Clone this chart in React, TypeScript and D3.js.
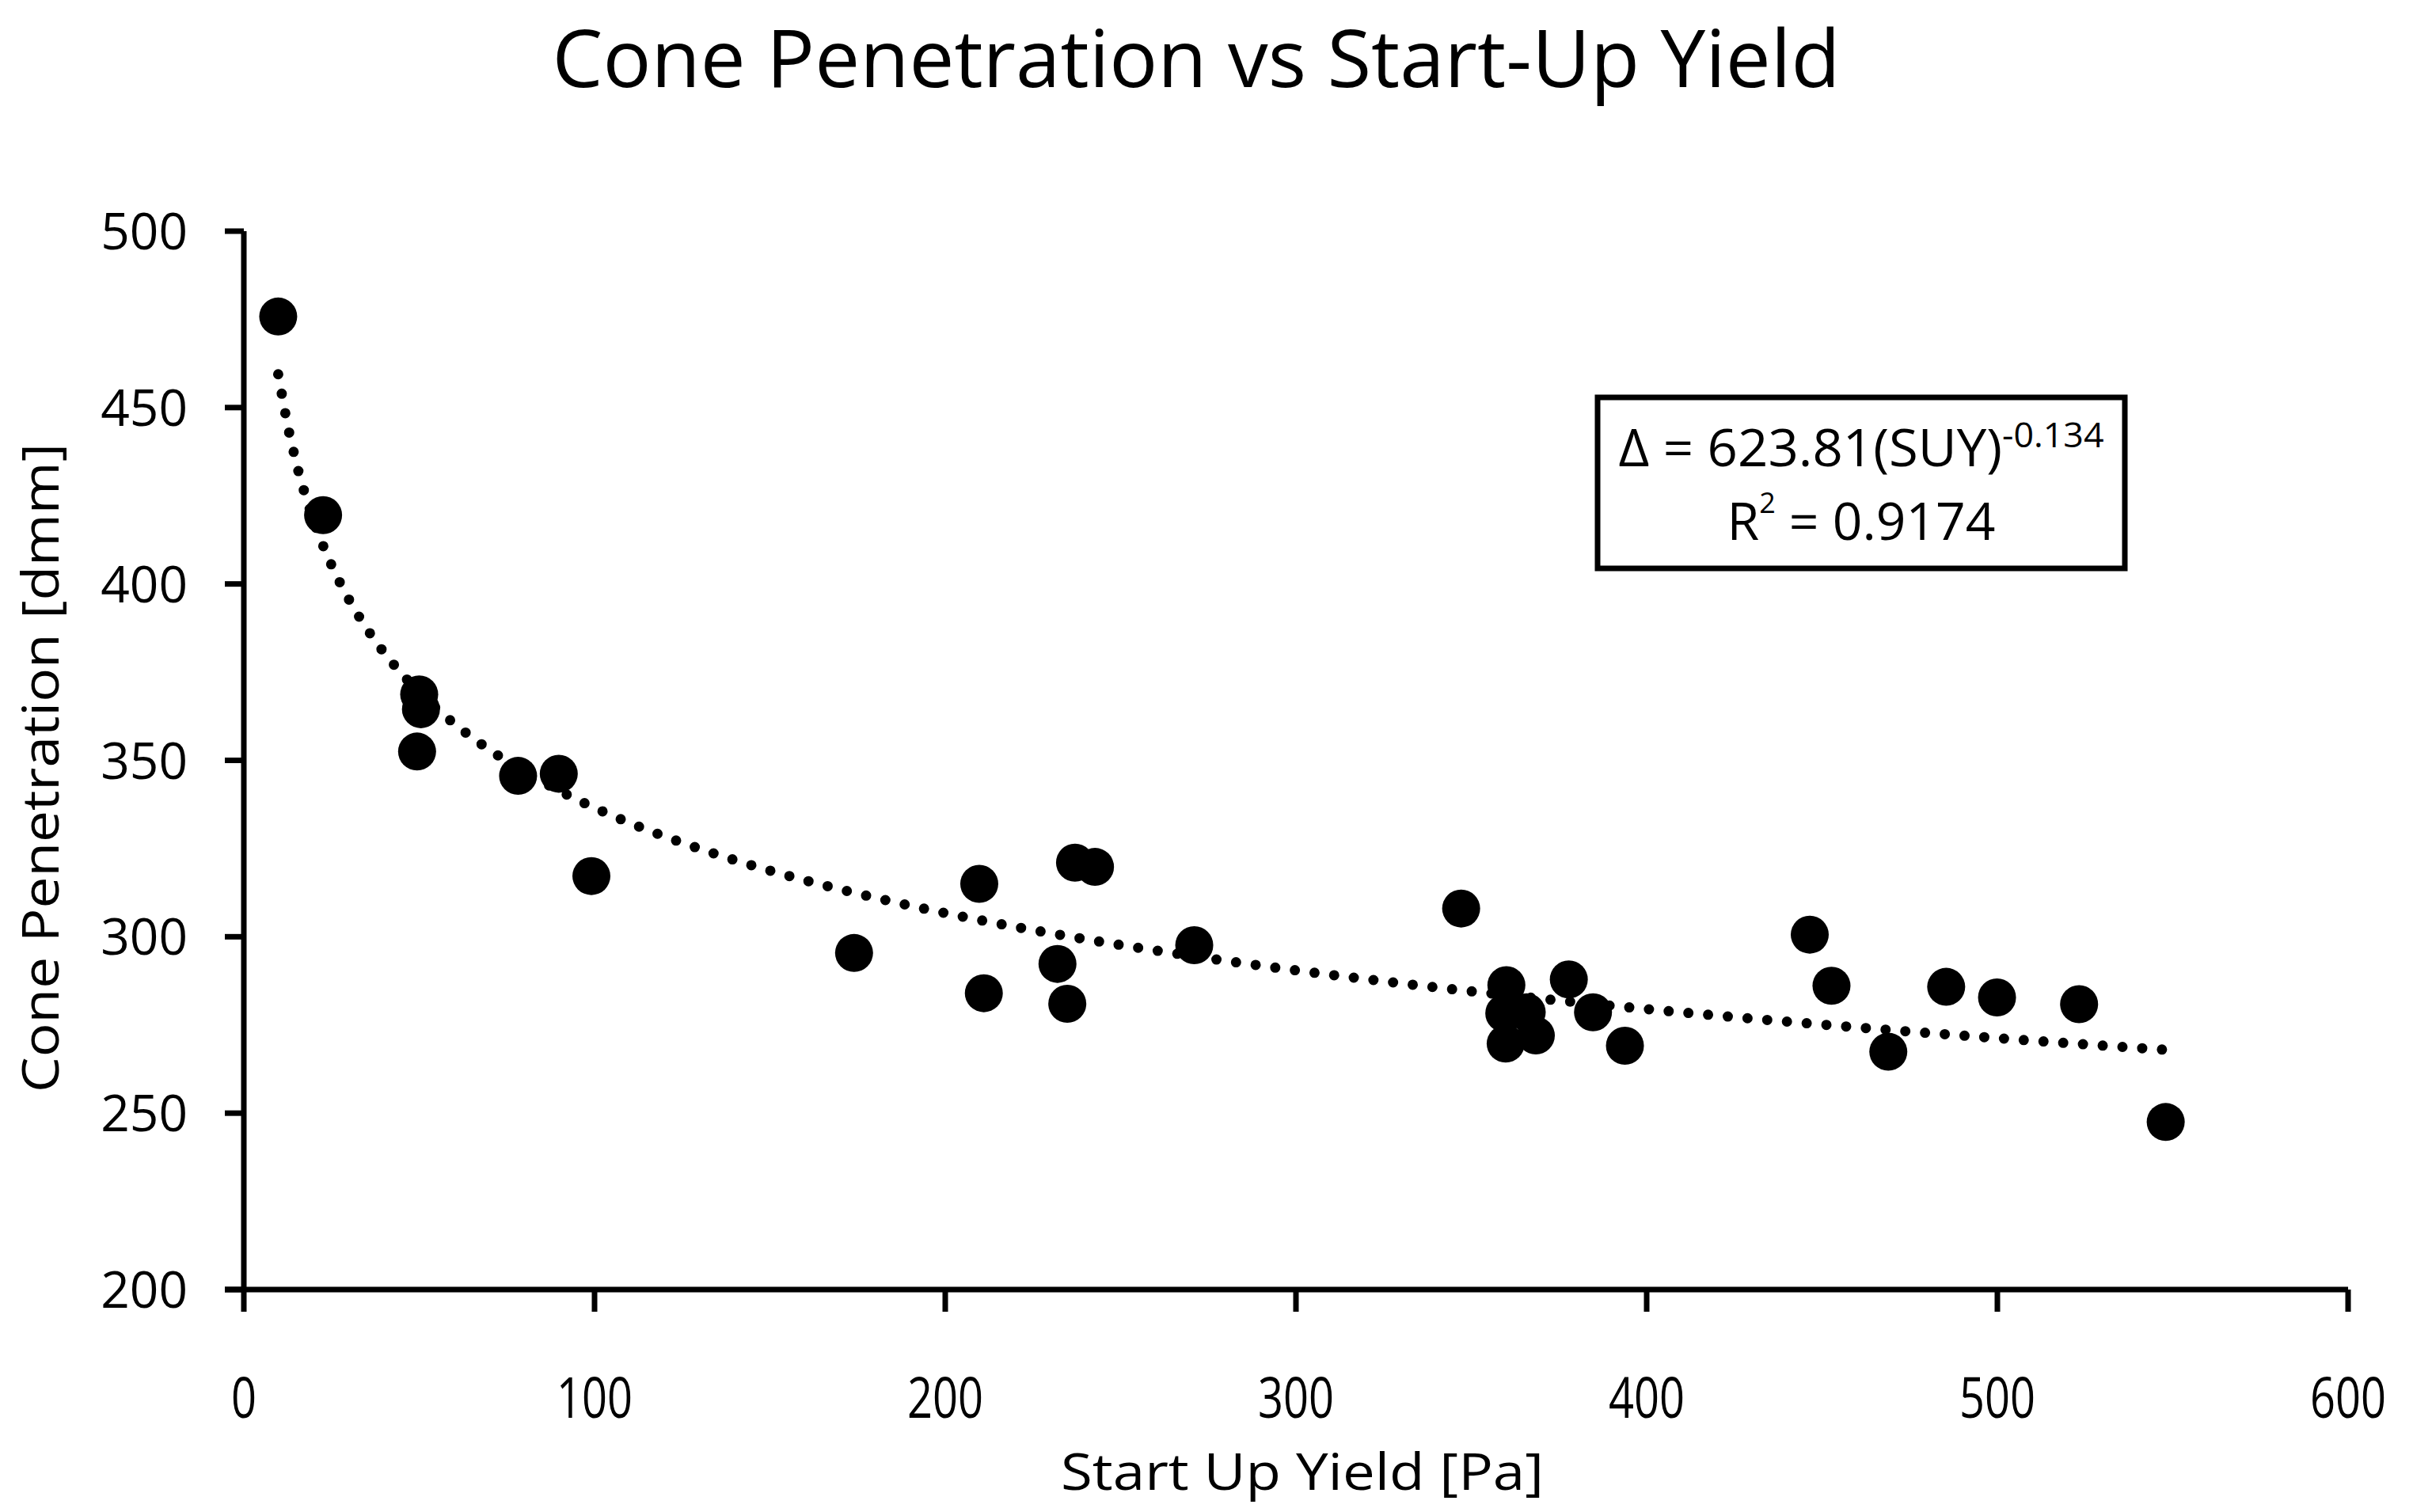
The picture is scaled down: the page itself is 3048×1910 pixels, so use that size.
import React from "react";
import * as d3 from "d3";

// Start-up yield [Pa] and cone penetration [dmm]
const suy = [
  9.8, 22.6, 50, 50.5, 49.4, 78.2, 89.8, 99.1, 174, 209.7, 211, 232, 234.8,
  237, 242.7, 271, 347.1, 360, 359.4, 359.8, 365.8, 368.4, 377.8, 384.7,
  393.8, 446.5, 452.7, 468.9, 485.4, 499.9, 523.3, 548,
];
const cone = [
  475.8, 419.5, 368.7, 364.5, 352.5, 345.6, 346.2, 317.2, 295.4, 315, 284,
  292.3, 281, 321, 319.8, 297.6, 308, 286.3, 278.3, 269.7, 278.6, 272, 287.9,
  278.6, 269.1, 300.6, 286.1, 267.4, 285.8, 282.8, 280.9, 247.5,
];

const xTicks = [0, 100, 200, 300, 400, 500, 600];
const yTicks = [200, 250, 300, 350, 400, 450, 500];

// power trendline
const fitA = 623.81;
const fitB = -0.134;
const r2 = 0.9174;

const W = 3048;
const H = 1910;
const FONT = "'Open Sans', 'Noto Sans', sans-serif";

export default function App() {
  const x = d3.scaleLinear().domain([0, 600]).range([308, 2966]);
  const y = d3.scaleLinear().domain([200, 500]).range([1629, 292]);

  const [xMin, xMax] = d3.extent(suy) as [number, number];
  const trendPts = d3.range(0, 201).map((i) => {
    const v = xMin + ((xMax - xMin) * i) / 200;
    return [v, fitA * Math.pow(v, fitB)] as [number, number];
  });
  const trend = d3
    .line<[number, number]>()
    .x((d) => x(d[0]))
    .y((d) => y(d[1]))(trendPts);

  const pts = suy.map((v, i) => ({ x: v, y: cone[i] }));

  return (
    <svg
      width={W}
      height={H}
      style={{ position: "absolute", left: 0, top: 0, background: "#fff" }}
      fontFamily={FONT}
    >
      <rect width={W} height={H} fill="#fff" />

      <text
        x={1511}
        y={110}
        fontSize={100}
        textAnchor="middle"
        textLength={1627}
        lengthAdjust="spacingAndGlyphs"
      >
        Cone Penetration vs Start-Up Yield
      </text>

      {/* trendline */}
      <path
        d={trend || ""}
        fill="none"
        stroke="#000"
        strokeWidth={13}
        strokeLinecap="round"
        strokeDasharray="0 25"
      />

      {/* points */}
      {pts.map((d, i) => (
        <circle key={i} cx={x(d.x)} cy={y(d.y)} r={24} fill="#000" />
      ))}

      {/* axes */}
      <line x1={x(0)} x2={x(0)} y1={y(500)} y2={y(200)} stroke="#000" strokeWidth={7} />
      <line x1={x(0) - 24} x2={x(600)} y1={y(200)} y2={y(200)} stroke="#000" strokeWidth={7} />
      {yTicks.map((t) => (
        <g key={"y" + t}>
          <line x1={x(0) - 24} x2={x(0)} y1={y(t)} y2={y(t)} stroke="#000" strokeWidth={7} />
          <text x={237} y={y(t) + 23} fontSize={64} textAnchor="end">
            {t}
          </text>
        </g>
      ))}
      {xTicks.map((t) => (
        <g key={"x" + t}>
          <line x1={x(t)} x2={x(t)} y1={y(200)} y2={y(200) + 28} stroke="#000" strokeWidth={7} />
          <text
            x={x(t)}
            y={1791}
            fontSize={72}
            textAnchor="middle"
            textLength={String(t).length * 32}
            lengthAdjust="spacingAndGlyphs"
          >
            {t}
          </text>
        </g>
      ))}

      <text
        x={1645}
        y={1882}
        fontSize={64}
        textAnchor="middle"
        textLength={610}
        lengthAdjust="spacingAndGlyphs"
      >
        Start Up Yield [Pa]
      </text>
      <text
        transform="translate(74,970) rotate(-90)"
        fontSize={64}
        textAnchor="middle"
        textLength={820}
        lengthAdjust="spacingAndGlyphs"
      >
        Cone Penetration [dmm]
      </text>

      {/* equation box */}
      <rect x={2018} y={502} width={666} height={216} fill="#fff" stroke="#000" strokeWidth={7} />
      <text x={2351} y={589} fontSize={66} textAnchor="middle" textLength={613} lengthAdjust="spacingAndGlyphs">
        {`Δ = ${fitA}(SUY)`}
        <tspan fontSize={44} dy={-24}>{String(fitB)}</tspan>
      </text>
      <text x={2351} y={682} fontSize={66} textAnchor="middle" textLength={339} lengthAdjust="spacingAndGlyphs">
        R
        <tspan fontSize={36} dy={-34}>2</tspan>
        <tspan dy={34}>{` = ${r2}`}</tspan>
      </text>
    </svg>
  );
}
